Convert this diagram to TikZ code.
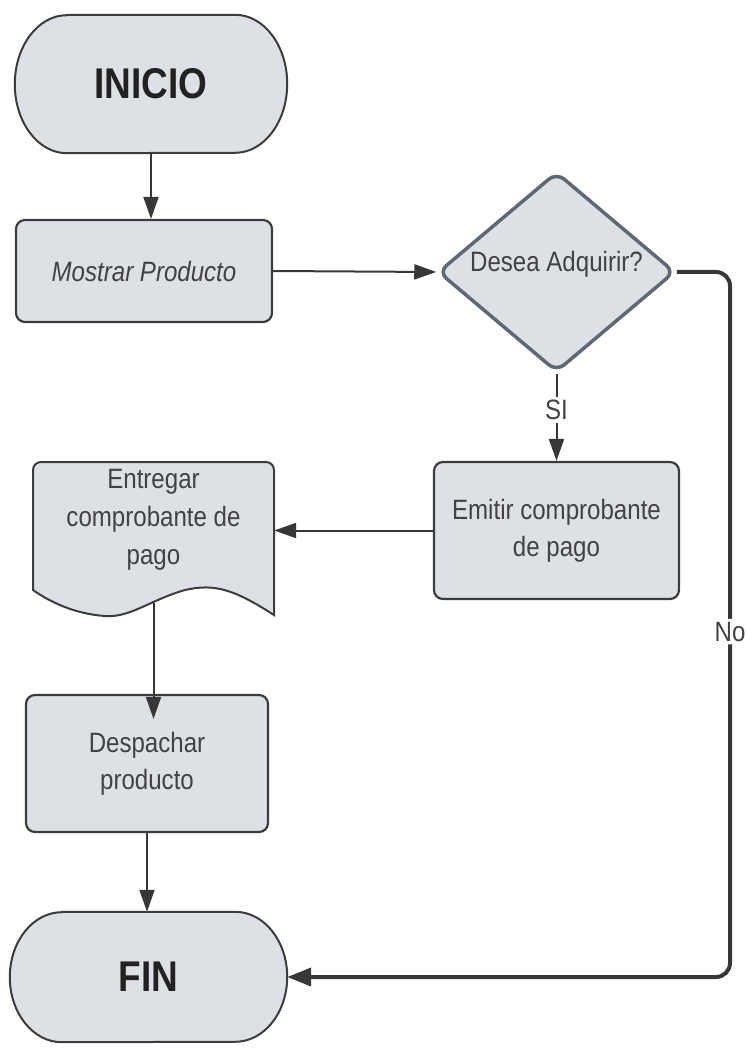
\documentclass[tikz,border=0pt]{standalone}
\usepackage{fontspec}
\setmainfont{Liberation Sans}[FakeStretch=0.86]
\usetikzlibrary{arrows.meta,shapes.geometric,backgrounds}
\definecolor{boxfill}{RGB}{221,225,230}
\definecolor{boxline}{RGB}{60,60,60}
\definecolor{decline}{RGB}{95,105,115}
\definecolor{txt}{RGB}{66,66,66}
\definecolor{ttl}{RGB}{34,34,34}
\definecolor{connc}{RGB}{55,55,55}
\tikzset{
  procbox/.style={draw=boxline, line width=2.2pt, fill=boxfill, rounded corners=9pt,
    align=center, text=txt, font=\fontsize{28}{37}\selectfont, inner sep=0pt},
  termtext/.style={inner sep=0pt, text=ttl, font=\bfseries\fontsize{43}{43}\selectfont},
  termshape/.style={draw=boxline, line width=2pt, fill=boxfill},
  doctext/.style={inner sep=0pt, align=center, text=txt, font=\fontsize{28}{38}\selectfont},
  decshape/.style={diamond, draw=decline, line width=3.5pt, fill=boxfill, rounded corners=10pt, inner sep=0pt},
  connarrow/.style={draw=connc, line width=2pt, -{Triangle[length=22pt,width=15pt]}},
  noline/.style={draw=connc, line width=4pt, rounded corners=14pt, -{Triangle[length=24pt,width=18pt]}},
  lbl/.style={fill=white, text=txt, font=\fontsize{28}{30}\selectfont, inner sep=3pt},
}
\begin{document}
\begin{tikzpicture}[x=1pt,y=-1pt]
\useasboundingbox (0,0) rectangle (745,1048);

% nodes
\node[termtext, minimum width=272pt, minimum height=138pt] (ini) at (151,84) {INICIO};
\node[procbox, minimum width=256pt, minimum height=102pt, font=\itshape\fontsize{28}{37}\selectfont] (most) at (144,271) {Mostrar Producto};
\node[decshape, minimum width=237pt, minimum height=200pt,
      label={[text=txt, font=\fontsize{28}{30}\selectfont, yshift=8pt]center:Desea Adquirir?}] (dec) at (556.5,272) {};
\node[procbox, minimum width=245pt, minimum height=137pt] (emit) at (556.5,530.5) {Emitir comprobante\\de pago};
\node[doctext, minimum width=241pt, minimum height=116pt] (doc) at (153.5,520) {Entregar\\comprobante de\\pago};
\node[procbox, minimum width=242pt, minimum height=137pt] (desp) at (147,763.5) {Despachar\\producto};
\node[termtext, minimum width=277pt, minimum height=130pt] (fin) at (148.5,977) {FIN};
\coordinate (nr) at (730,600);

% shapes behind text
\begin{scope}[on background layer]
\draw[termshape] ([xshift=52pt]ini.north west) -- ([xshift=-52pt]ini.north east)
  arc[start angle=90, end angle=-90, x radius=52pt, y radius=69pt]
  -- ([xshift=52pt]ini.south west)
  arc[start angle=270, end angle=90, x radius=52pt, y radius=69pt] -- cycle;
\draw[termshape] ([xshift=52pt]fin.north west) -- ([xshift=-52pt]fin.north east)
  arc[start angle=90, end angle=-90, x radius=52pt, y radius=65pt]
  -- ([xshift=52pt]fin.south west)
  arc[start angle=270, end angle=90, x radius=52pt, y radius=65pt] -- cycle;
\draw[termshape] (33,590) [rounded corners=8pt] -- (33,462) -- (274,462) [sharp corners] -- (274,615)
  .. controls (235,590) and (215,583) .. (185,590)
  .. controls (150,600) and (130,618) .. (105,616)
  .. controls (75,614) and (50,602) .. (33,590) -- cycle;
\end{scope}

% connectors
\draw[connarrow] (ini.south) -- (ini.south |- most.north);
\draw[connarrow] (most.east) -- (dec.west);
\draw[connarrow] (dec.south) -- node[lbl, pos=0.42] {SI} (emit.north);
\draw[connarrow] (emit.west) -- (doc.east |- emit.west);
\draw[connarrow] ([yshift=-25pt]doc.south) -- ([yshift=-25pt]doc.south |- desp.north);
\draw[connarrow] (desp.south) -- (desp.south |- fin.north);
\draw[noline] (dec.east) -- (dec.east -| nr) -- node[lbl, pos=0.51] {No} (nr |- fin.east) -- (fin.east);
\end{tikzpicture}
\end{document}
